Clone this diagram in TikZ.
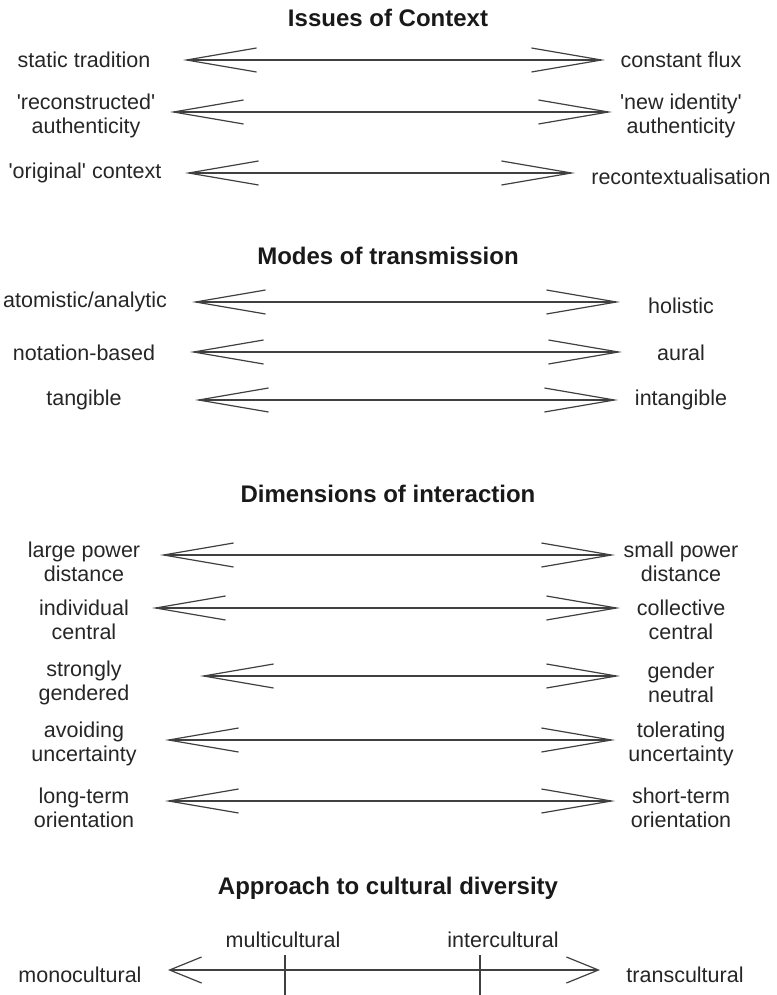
\documentclass[tikz,border=0pt]{standalone}
\usepackage{fontspec}
\setmainfont{Liberation Sans}
\usetikzlibrary{arrows.meta}
\begin{document}
\begin{tikzpicture}[x=1pt,y=-1pt,
    lbl/.style={align=center,inner sep=0pt,text=black!85,
      font=\fontsize{21.5}{24}\selectfont},
    ttl/.style={inner sep=0pt,text=black!90,
      font=\fontsize{24}{28}\selectfont\bfseries},
    sketch/.style={<->,draw=black!75,line width=2.4pt,
      >={Straight Barb[length=70pt,width=24pt,line width=1.2pt]}},
    tick/.style={draw=black!75,line width=2pt}]
  \useasboundingbox (0,0) rectangle (776,995);
  \node[ttl] (ctx) at (388,18) {Issues of Context};
  \draw
    (84,60) node[lbl] (static){static tradition}
    (681,60) node[lbl] (flux){constant flux}
    (86,116) node[lbl] (recon){\textquotesingle reconstructed\textquotesingle\\authenticity}
    (681,116) node[lbl] (newid){\textquotesingle new identity\textquotesingle\\authenticity}
    (85,173) node[lbl] (orig){\textquotesingle original\textquotesingle{} context}
    (681,177) node[lbl] (recont){recontextualisation};
  \coordinate (static-e) at (183,60);
  \coordinate (flux-w) at (605,60);
  \coordinate (recon-e) at (170,112);
  \coordinate (newid-w) at (612,112);
  \coordinate (orig-e) at (185,173);
  \coordinate (recont-w) at (575,173);
  \begin{scope}[sketch]
    \draw (static-e) to (flux-w);
    \draw (recon-e) to (newid-w);
    \draw (orig-e) to (recont-w);
  \end{scope}
  \node[ttl] (modes) at (388,256) {Modes of transmission};
  \draw
    (85,302) node[lbl] (atom){atomistic/analytic}
    (681,306) node[lbl] (holist){holistic}
    (84,353) node[lbl] (notat){notation-based}
    (681,353) node[lbl] (aural){aural}
    (84,400) node[lbl] (tang){tangible}
    (681,400) node[lbl] (intang){intangible};
  \coordinate (atom-e) at (192,302);
  \coordinate (holist-w) at (620,302);
  \coordinate (notat-e) at (190,352);
  \coordinate (aural-w) at (622,352);
  \coordinate (tang-e) at (195,400);
  \coordinate (intang-w) at (618,400);
  \begin{scope}[sketch]
    \draw (atom-e) to (holist-w);
    \draw (notat-e) to (aural-w);
    \draw (tang-e) to (intang-w);
  \end{scope}
  \node[ttl] (dims) at (388,494) {Dimensions of interaction};
  \draw
    (84,562) node[lbl] (large){large power\\distance}
    (681,562) node[lbl] (small){small power\\distance}
    (84,620) node[lbl] (indiv){individual\\central}
    (681,620) node[lbl] (collec){collective\\central}
    (84,683) node[lbl] (strong){strongly\\gendered}
    (681,683) node[lbl] (neutral){gender\\neutral}
    (84,744) node[lbl] (avoid){avoiding\\uncertainty}
    (681,744) node[lbl] (toler){tolerating\\uncertainty}
    (84,808) node[lbl] (long){long-term\\orientation}
    (681,808) node[lbl] (short){short-term\\orientation};
  \coordinate (large-e) at (160,555);
  \coordinate (small-w) at (615,555);
  \coordinate (indiv-e) at (152,608);
  \coordinate (collec-w) at (620,608);
  \coordinate (strong-e) at (200,676);
  \coordinate (neutral-w) at (620,676);
  \coordinate (avoid-e) at (165,740);
  \coordinate (toler-w) at (615,740);
  \coordinate (long-e) at (165,801);
  \coordinate (short-w) at (615,801);
  \begin{scope}[sketch]
    \draw (large-e) to (small-w);
    \draw (indiv-e) to (collec-w);
    \draw (strong-e) to (neutral-w);
    \draw (avoid-e) to (toler-w);
    \draw (long-e) to (short-w);
  \end{scope}
  \node[ttl] (approach) at (388,888) {Approach to cultural diversity};
  \draw
    (80,975) node[lbl] (mono){monocultural}
    (283,940) node[lbl] (multi){multicultural}
    (503,940) node[lbl] (inter){intercultural}
    (685,975) node[lbl] (trans){transcultural};
  \coordinate (mono-e) at (168,970);
  \coordinate (trans-w) at (600,970);
  \coordinate (multi-t) at (285,955);
  \coordinate (multi-b) at (285,995);
  \coordinate (inter-t) at (480,955);
  \coordinate (inter-b) at (480,995);
  \draw[sketch,>={Straight Barb[length=32pt,width=26pt,line width=1.2pt]}]
    (mono-e) to (trans-w);
  \draw[tick] (multi-t) to (multi-b);
  \draw[tick] (inter-t) to (inter-b);
\end{tikzpicture}
\end{document}
